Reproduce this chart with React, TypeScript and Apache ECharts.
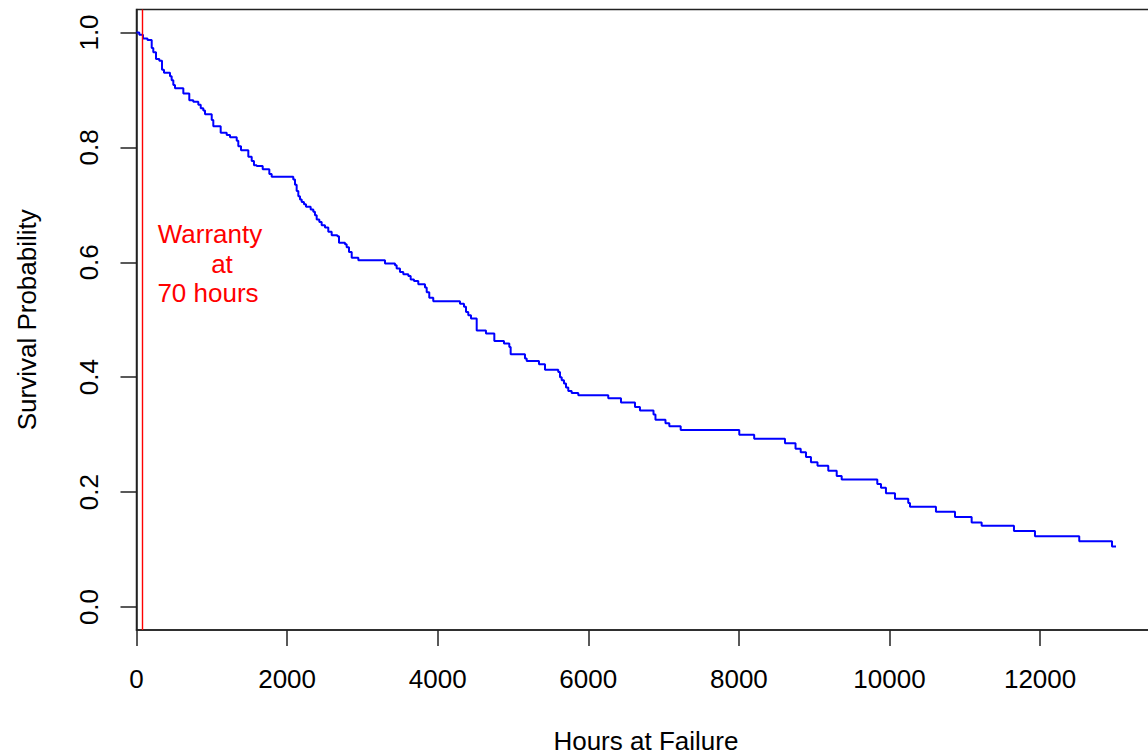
import React, { useEffect, useRef } from "react";
import * as echarts from "echarts";

// Kaplan-Meier survival estimate: hours at failure vs survival probability
const hours = [
  0, 37, 86, 146, 202, 223, 259, 303, 339, 365, 445, 467, 489, 511, 622, 701, 754, 821, 853, 887, 910,
  999, 1020, 1118, 1198, 1242, 1331, 1352, 1388, 1485, 1530, 1560, 1596, 1676, 1764, 1795,
  2082, 2105, 2127, 2149, 2171, 2194, 2224, 2251, 2313, 2348, 2370, 2393, 2428, 2459, 2503, 2547, 2592,
  2667, 2689, 2769, 2791, 2822, 2858, 2946, 3300, 3433, 3455, 3499, 3543, 3610, 3641, 3685, 3742, 3831,
  3854, 3888, 3941, 4296, 4349, 4376, 4406, 4442, 4518, 4641, 4752, 4880, 4951, 4969, 5159, 5182, 5345,
  5425, 5601, 5624, 5647, 5677, 5704, 5734, 5779, 5867, 6265, 6434, 6620, 6686, 6866, 6892, 7025, 7076,
  7227, 8005, 8203, 8612, 8752, 8821, 8891, 8957, 9044, 9187, 9299, 9365, 9838, 9887, 9953, 10073,
  10249, 10272, 10617, 10870, 11091, 11224, 11653, 11932, 12520, 12955, 13008,
];
const survival = [
  1.0, 0.996, 0.9895, 0.987, 0.973, 0.9655, 0.954, 0.951, 0.935, 0.93, 0.924, 0.917, 0.9085, 0.903, 0.894,
  0.882, 0.8795, 0.874, 0.868, 0.864, 0.8575, 0.8475, 0.837, 0.8255, 0.8215, 0.8175, 0.8115, 0.802, 0.795,
  0.7835, 0.7765, 0.769, 0.7675, 0.762, 0.7535, 0.749, 0.744, 0.735, 0.724, 0.715, 0.7095, 0.705, 0.701,
  0.6965, 0.692, 0.688, 0.682, 0.6745, 0.67, 0.6645, 0.6605, 0.653, 0.647, 0.6455, 0.634, 0.6315, 0.626,
  0.618, 0.608, 0.6035, 0.598, 0.595, 0.589, 0.583, 0.579, 0.576, 0.57, 0.5675, 0.562, 0.556, 0.548,
  0.5385, 0.532, 0.528, 0.5225, 0.5135, 0.508, 0.502, 0.4815, 0.476, 0.463, 0.4585, 0.4525, 0.44, 0.4325,
  0.428, 0.4225, 0.413, 0.409, 0.4, 0.3945, 0.389, 0.382, 0.376, 0.3725, 0.3685, 0.3635, 0.356, 0.348,
  0.342, 0.335, 0.326, 0.32, 0.3145, 0.308, 0.3, 0.293, 0.285, 0.2755, 0.2695, 0.261, 0.252, 0.246,
  0.237, 0.228, 0.222, 0.214, 0.2075, 0.198, 0.1885, 0.181, 0.1745, 0.166, 0.1565, 0.147, 0.1415, 0.1325,
  0.123, 0.1145, 0.1055, 0.1055,
];
const yTicks = [0, 0.2, 0.4, 0.6, 0.8, 1.0];
const warrantyHours = 70;
const warrantyLines = ["Warranty", "at", "70 hours"];

const FONT = "'Liberation Sans', Arial, sans-serif";

export default function App() {
  const ref = useRef<HTMLDivElement>(null);
  useEffect(() => {
    document.body.style.margin = "0";
    const chart = echarts.init(ref.current!, undefined, { renderer: "svg" });
    const data = hours.map((h, i) => [h, survival[i]]);
    chart.setOption({
      animation: false,
      backgroundColor: "#ffffff",
      grid: {
        left: 136.5,
        top: 9.5,
        width: 1018.8,
        height: 620.5,
        show: true,
        borderColor: "#222",
        borderWidth: 1.5,
        backgroundColor: "transparent",
        outerBoundsMode: "none",
        containLabel: false,
      },
      xAxis: {
        type: "value",
        min: 0,
        max: 13530,
        interval: 2000,
        splitLine: { show: false },
        axisLine: { show: true, onZero: false, lineStyle: { color: "#222", width: 1.5 } },
        axisTick: { show: true, length: 16, lineStyle: { color: "#222", width: 1.5 } },
        axisLabel: {
          show: true,
          showMaxLabel: false,
          margin: 36,
          fontSize: 26,
          fontFamily: FONT,
          color: "#000",
          formatter: (v: number) => String(Math.round(v)),
        },
        name: "Hours at Failure",
        nameLocation: "middle",
        nameGap: 98,
        nameTextStyle: { fontSize: 26, fontFamily: FONT, color: "#000" },
      },
      yAxis: {
        type: "value",
        min: -0.04,
        max: 1.04,
        splitLine: { show: false },
        axisLine: { show: true, onZero: false, lineStyle: { color: "#222", width: 1.5 } },
        axisTick: { show: true, length: 16, customValues: yTicks, lineStyle: { color: "#222", width: 1.5 } },
        axisLabel: {
          show: true,
          customValues: yTicks,
          rotate: 90,
          margin: 35,
          fontSize: 26,
          fontFamily: FONT,
          color: "#000",
          formatter: (v: number) => v.toFixed(1),
        },
        name: "Survival Probability",
        nameLocation: "middle",
        nameGap: 97,
        nameTextStyle: { fontSize: 26, fontFamily: FONT, color: "#000" },
      },
      series: [
        {
          type: "line",
          step: "end",
          data,
          showSymbol: false,
          symbol: "none",
          lineStyle: { color: "#0000ff", width: 2 },
          markLine: {
            silent: true,
            symbol: ["none", "none"],
            label: { show: false },
            lineStyle: { color: "#ff0000", width: 1.4, type: "solid" },
            data: [{ xAxis: warrantyHours }],
          },
        },
      ],
      graphic: [
        {
          type: "text",
          x: 210,
          y: 234,
          style: { text: warrantyLines[0], fill: "#ff0000", fontSize: 26, fontFamily: FONT, textAlign: "center", textVerticalAlign: "middle" },
        },
        {
          type: "text",
          x: 222,
          y: 264,
          style: { text: warrantyLines[1], fill: "#ff0000", fontSize: 26, fontFamily: FONT, textAlign: "center", textVerticalAlign: "middle" },
        },
        {
          type: "text",
          x: 208,
          y: 293,
          style: { text: warrantyLines[2], fill: "#ff0000", fontSize: 26, fontFamily: FONT, textAlign: "center", textVerticalAlign: "middle" },
        },
      ],
    });
    return () => chart.dispose();
  }, []);
  return <div ref={ref} style={{ position: "fixed", left: 0, top: 0, width: 1148, height: 756 }} />;
}
